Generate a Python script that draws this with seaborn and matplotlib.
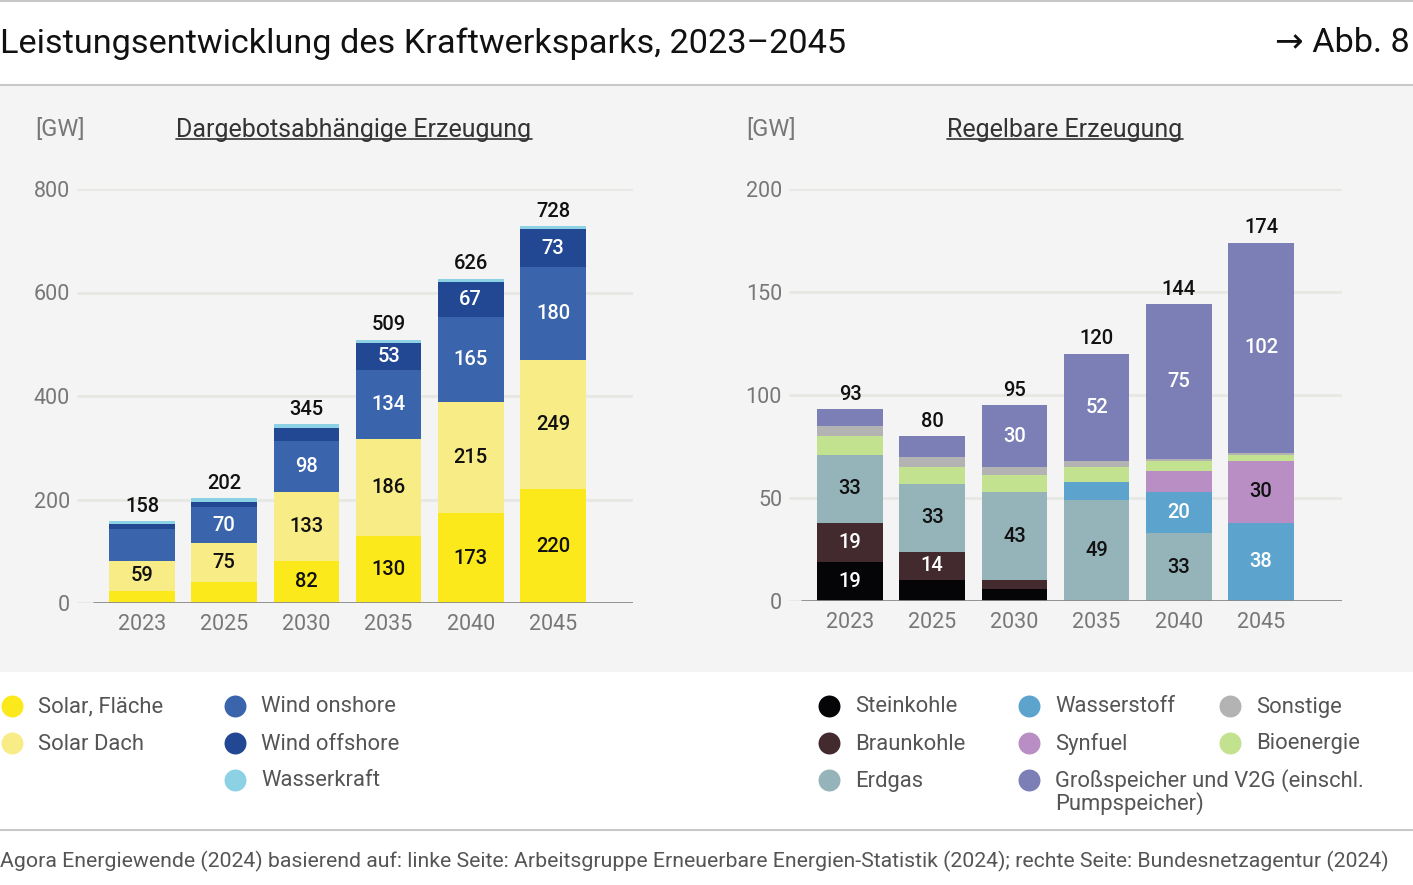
import numpy as np
import matplotlib.pyplot as plt
import seaborn as sns
from matplotlib.patches import Rectangle

# ===============================
# Data
# ===============================
years = ["2023", "2025", "2030", "2035", "2040", "2045"]

# left: Dargebotsabhängige Erzeugung [GW]
solar_flaeche = [23, 40, 82, 130, 173, 220]
solar_dach = [59, 75, 133, 186, 215, 249]
wind_onshore = [61, 70, 98, 134, 165, 180]
wind_offshore = [9, 11, 26, 53, 67, 73]
wasserkraft = [6, 6, 6, 6, 6, 6]
left_totals = [158, 202, 345, 509, 626, 728]

# right: Regelbare Erzeugung [GW]
steinkohle = [19, 10, 6, 0, 0, 0]
braunkohle = [19, 14, 4, 0, 0, 0]
erdgas = [33, 33, 43, 49, 33, 0]
wasserstoff = [0, 0, 0, 9, 20, 38]
synfuel = [0, 0, 0, 0, 10, 30]
bioenergie = [9, 8, 8, 7, 5, 3]
sonstige = [5, 5, 4, 3, 1, 1]
speicher = [8, 10, 30, 52, 75, 102]
right_totals = [93, 80, 95, 120, 144, 174]

left_names = ["Solar, Fläche", "Solar Dach", "Wind onshore", "Wind offshore", "Wasserkraft"]
left_series = [solar_flaeche, solar_dach, wind_onshore, wind_offshore, wasserkraft]
left_colors = ["#FCE91C", "#F8EC87", "#3A64AC", "#234893", "#8DD1E5"]
left_text = ["#111111", "#111111", "white", "white", "white"]

right_names = ["Steinkohle", "Braunkohle", "Erdgas", "Wasserstoff", "Synfuel",
               "Bioenergie", "Sonstige", "Großspeicher und V2G (einschl.\nPumpspeicher)"]
right_series = [steinkohle, braunkohle, erdgas, wasserstoff, synfuel,
                bioenergie, sonstige, speicher]
right_colors = ["#050507", "#432A2F", "#95B4B9", "#5CA4CE", "#B98EC5",
                "#C3E290", "#B3B3B3", "#7B7FB6"]
right_text = ["white", "white", "#111111", "white", "#111111",
              "#111111", "#111111", "white"]

# segments that carry no number in the original
left_hidden = {("Wind onshore", "2023")}

W, H = 1413, 885
PANEL = "#F4F4F4"

sns.set_theme(style="white")
plt.rcParams["font.family"] = ["Roboto", "DejaVu Sans"]

fig = plt.figure(figsize=(W / 100, H / 100), dpi=100, facecolor="white")


def fx(px):
    return px / W


def fy(py):
    return 1 - py / H


# background layer in pixel coordinates
bg = fig.add_axes([0, 0, 1, 1], zorder=-1)
bg.set_xlim(0, W)
bg.set_ylim(H, 0)
bg.axis("off")
bg.add_patch(Rectangle((0, 86), W, 586, color=PANEL, lw=0))
bg.plot([0, W], [1, 1], color="#c8c8c8", lw=1.5)
bg.plot([0, W], [85, 85], color="#c8c8c8", lw=1.5)
bg.plot([0, W], [830, 830], color="#c8c8c8", lw=1.5)

bg.text(0, 43.5, "Leistungsentwicklung des Kraftwerksparks, 2023–2045",
        fontsize=24.7, color="#111111", va="center", ha="left")
bg.text(1410, 43.5, "→ Abb. 8", fontsize=24.7, color="#111111", va="center", ha="right")
bg.text(0, 861, "Agora Energiewende (2024) basierend auf: linke Seite: Arbeitsgruppe "
        "Erneuerbare Energien-Statistik (2024); rechte Seite: Bundesnetzagentur (2024)",
        fontsize=15.3, color="#555555", va="center", ha="left")


def draw_panel(ax, series, names, colors, tcolors, totals, ymax, step, thresh, hidden):
    vals = np.array(series, dtype=float)
    cum = np.cumsum(vals, axis=0)
    # layered cumulative bars: biggest first, each lower sum on top
    for k in range(len(series) - 1, -1, -1):
        sns.barplot(x=years, y=cum[k], color=colors[k], saturation=1,
                    width=0.8, linewidth=0, errorbar=None, ax=ax, zorder=3)
    for k, name in enumerate(names):
        for i, yr in enumerate(years):
            v = vals[k, i]
            if v < thresh or (name, yr) in hidden:
                continue
            ax.text(i, cum[k, i] - v / 2, f"{v:.0f}", ha="center", va="center",
                    fontsize=14.5, fontweight="medium", color=tcolors[k], zorder=5)
    for i, t in enumerate(totals):
        ax.annotate(f"{t}", (i, t), xytext=(0, 4), textcoords="offset points",
                    ha="center", va="bottom", fontsize=14.5, fontweight="medium",
                    color="#111111")
    ax.set_ylim(0, ymax)
    ax.set_yticks(np.arange(0, ymax + 1, step))
    ax.yaxis.grid(True, color="#e7e7e3", lw=2, zorder=0)
    ax.set_axisbelow(True)
    for s in ax.spines.values():
        s.set_visible(False)
    ax.tick_params(axis="both", length=0, labelsize=15.5, colors="#777777")
    ax.tick_params(axis="y", pad=5)
    ax.tick_params(axis="x", pad=8)
    ax.set_xlabel("")
    ax.set_ylabel("")
    ax.set_facecolor("none")


# left panel
axl = fig.add_axes([fx(77), fy(603), fx(633 - 77), (603 - 189) / H])
draw_panel(axl, left_series, left_names, left_colors, left_text, left_totals,
           800, 200, 50, left_hidden)
axl.set_xlim(-(142 - 77) / 82.2, (633 - 142) / 82.2)
axl.hlines(0, -(142 - 93) / 82.2, (633 - 142) / 82.2, color="#8a8a8a", lw=2, zorder=4)

# right panel
axr = fig.add_axes([fx(789), fy(601), fx(1342 - 789), (601 - 189) / H])
draw_panel(axr, right_series, right_names, right_colors, right_text, right_totals,
           200, 50, 12, set())
axr.set_xlim(-(850 - 789) / 82.2, (1342 - 850) / 82.2)
axr.hlines(0, -(850 - 801) / 82.2, (1342 - 850) / 82.2, color="#8a8a8a", lw=2, zorder=4)

# panel headings
bg.text(35, 129, "[GW]", fontsize=17, color="#777777", va="center")
bg.text(746, 129, "[GW]", fontsize=17, color="#777777", va="center")
titles = [
    bg.text(354, 136.5, "Dargebotsabhängige Erzeugung", fontsize=18, color="#333333",
            ha="center", va="baseline"),
    bg.text(1065, 136.5, "Regelbare Erzeugung", fontsize=18, color="#333333",
            ha="center", va="baseline"),
]
fig.canvas.draw()
renderer = fig.canvas.get_renderer()
for t in titles:
    bb = t.get_window_extent(renderer)
    bg.plot([bb.x0, bb.x1], [139, 139], color="#333333", lw=1.2)

# legends
rows = [707, 744, 781]
left_cols = [(12, [0, 1]), (235, [2, 3, 4])]
right_cols = [(829, [0, 1, 2]), (1029, [3, 4, 7]), (1230, [6, 5])]


def legend(cols, names, colors):
    for cx, idx in cols:
        for r, k in enumerate(idx):
            bg.scatter([cx], [rows[r] - 1], s=250, color=colors[k], lw=0)
            lines = names[k].split("\n")
            for j, line in enumerate(lines):
                bg.text(cx + 26, rows[r] + j * 23, line, fontsize=15.8,
                        color="#555555", va="center", ha="left")


legend(left_cols, left_names, left_colors)
legend(right_cols, right_names, right_colors)

fig.savefig("out.png", dpi=100, facecolor="white")
plt.close()
